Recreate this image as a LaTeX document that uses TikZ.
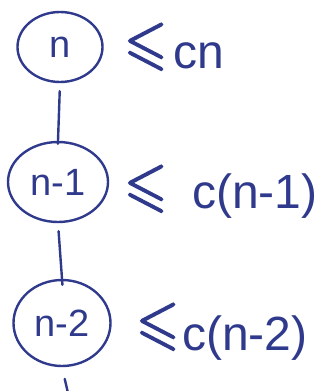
\documentclass[tikz,border=0pt]{standalone}
\usepackage{amssymb}
\usepackage{fontspec}
\setmainfont{Liberation Sans}
\usetikzlibrary{shapes.geometric}
\definecolor{ink}{RGB}{48,58,140}
\tikzset{
  circ/.style={draw=ink, line width=2.4pt, ellipse, inner sep=0pt, text=ink,
    font=\fontsize{38}{40}\selectfont},
  bound/.style={text=ink, anchor=base west, inner sep=0pt,
    font=\fontsize{48}{52}\selectfont},
  edge/.style={draw=ink, line width=2.4pt, line cap=round}
}
\newcommand{\myle}{\special{pdf:literal direct 2 Tr 1.2 w}\scalebox{1.15}[1.27]{$\leqslant$}\special{pdf:literal direct 0 Tr}}
\begin{document}
\begin{tikzpicture}[x=1pt,y=-1pt]
\useasboundingbox (0,0) rectangle (334,391);
\node[circ, minimum width=85pt, minimum height=70pt] (a) at (60,47) {n};
\node[circ, minimum width=100pt, minimum height=80pt] (b) at (58,182) {n-1};
\node[circ, minimum width=97pt, minimum height=86pt] (c) at (62,323) {n-2};
\coordinate (end) at (68,393);
\node[bound] (lea) at (124,62) {\myle};
\node[bound] (la) at (173,68) {cn};
\node[bound] (leb) at (124,204) {\myle};
\node[bound] (lb) at (192,208) {c(n-1)};
\node[bound] (lec) at (136,342) {\myle};
\node[bound] (lc) at (182,350) {c(n-2)};
\draw[edge, shorten <=8pt, shorten >=-3pt] (a.south) -- (b.north);
\draw[edge, shorten <=8pt, shorten >=-6pt] (b.south) -- (c.north);
\draw[edge, shorten <=12pt] (c.south) -- (end);
\end{tikzpicture}
\end{document}
